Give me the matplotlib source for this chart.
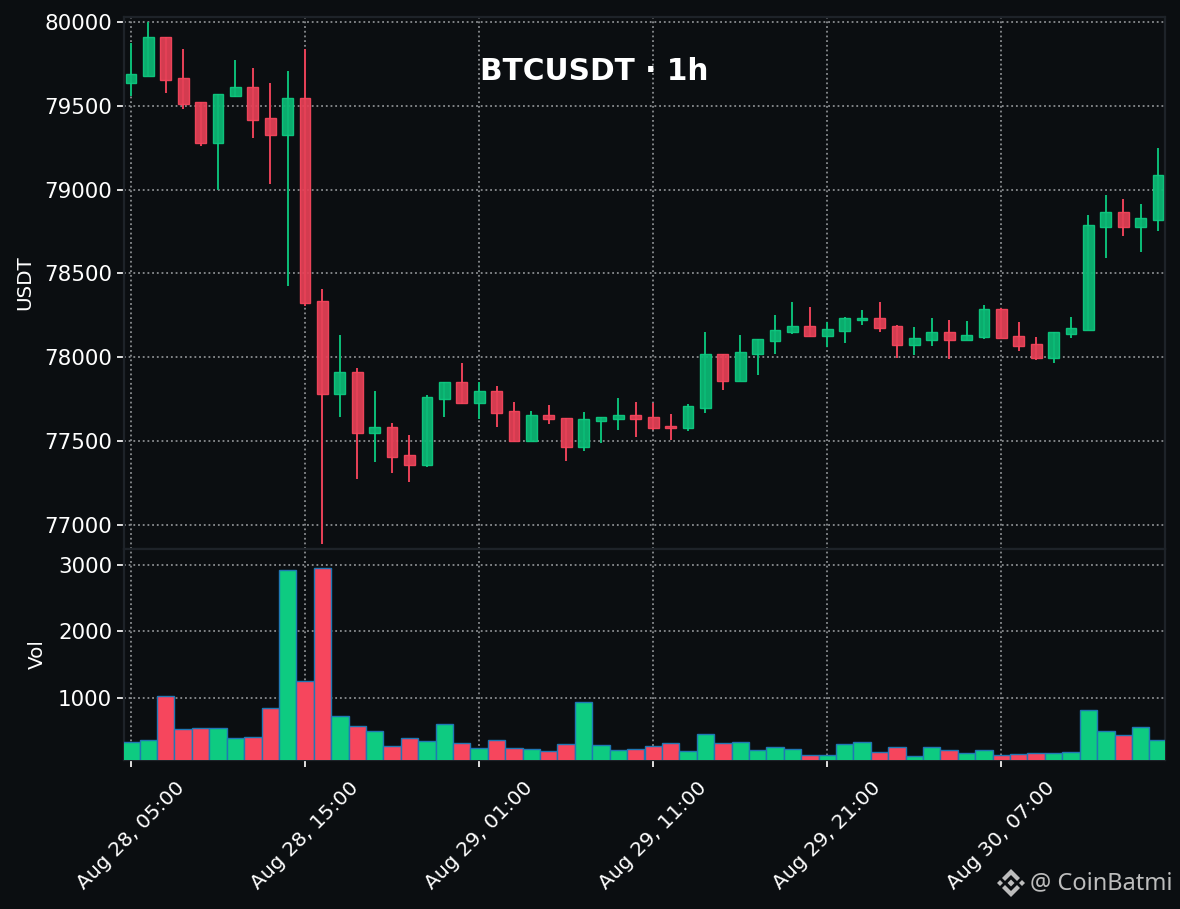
import matplotlib
matplotlib.use("Agg")
import matplotlib.pyplot as plt
from matplotlib.patches import Polygon

# 1h candles, Aug 28 05:00 onwards
labels = ["Aug 28, 05:00", "Aug 28, 15:00", "Aug 29, 01:00", "Aug 29, 11:00", "Aug 29, 21:00", "Aug 30, 07:00"]
label_idx = [0, 10, 20, 30, 40, 50]

opens = [79636, 79678, 79910, 79666, 79523, 79278, 79558, 79612, 79427, 79326,
         79546, 78335, 77780, 77912, 77547, 77583, 77416, 77357, 77750, 77852,
         77727, 77798, 77679, 77500, 77655, 77637, 77464, 77619, 77631, 77655,
         77643, 77589, 77577, 77697, 78019, 77858, 78019, 78097, 78150, 78186,
         78126, 78156, 78222, 78234, 78186, 78073, 78102, 78150, 78102, 78120,
         78287, 78126, 78079, 77995, 78138, 78162, 78777, 78866, 78777, 78819]
highs = [79875, 80000, 79910, 79839, 79523, 79570, 79773, 79725, 79636, 79707,
         79839, 78407, 78132, 77935, 77798, 77607, 77536, 77774, 77852, 77965,
         77852, 77828, 77732, 77679, 77715, 77637, 77673, 77643, 77757, 77732,
         77727, 77661, 77721, 78150, 78019, 78132, 78108, 78252, 78329, 78299,
         78210, 78240, 78281, 78329, 78192, 78180, 78234, 78222, 78216, 78311,
         78293, 78210, 78120, 78150, 78240, 78848, 78968, 78944, 78914, 79248]
lows = [79558, 79678, 79576, 79481, 79260, 78998, 79552, 79308, 79033, 78425,
        78305, 76885, 77643, 77273, 77374, 77309, 77255, 77345, 77643, 77721,
        77631, 77583, 77500, 77500, 77601, 77380, 77440, 77488, 77565, 77524,
        77565, 77506, 77559, 77667, 77804, 77858, 77894, 78019, 78138, 78120,
        78061, 78085, 78192, 78150, 77995, 78013, 78067, 77989, 78102, 78108,
        78115, 78037, 77983, 77965, 78115, 78162, 78592, 78723, 78628, 78753]
closes = [79690, 79910, 79654, 79511, 79278, 79570, 79612, 79415, 79326, 79546,
          78323, 77780, 77912, 77547, 77583, 77404, 77357, 77762, 77852, 77727,
          77798, 77667, 77500, 77655, 77631, 77464, 77631, 77643, 77655, 77631,
          77577, 77577, 77709, 78019, 77858, 78031, 78108, 78162, 78186, 78126,
          78168, 78234, 78234, 78174, 78073, 78115, 78150, 78102, 78132, 78287,
          78115, 78067, 77995, 78150, 78174, 78789, 78866, 78777, 78830, 79087]
volumes = [333, 363, 1025, 529, 544, 544, 394, 409, 845, 2920,
           1251, 2950, 724, 574, 499, 273, 394, 348, 604, 318,
           243, 363, 243, 228, 198, 303, 935, 288, 213, 228,
           273, 318, 198, 454, 318, 333, 213, 258, 228, 138,
           138, 303, 333, 183, 258, 123, 258, 213, 168, 213,
           138, 153, 168, 168, 183, 815, 499, 439, 559, 363]

W, H = 1180, 909
bg = "#0b0e11"
up_c = "#0ecb81"
down_c = "#f6465d"
candle_up = "#0bb975"
candle_down = "#e44056"
spine_c = "#1e2329"
grid_c = "#8a8d90"


def fig_rect(x0, y_top, x1, y_bot):
    return [x0 / W, 1 - y_bot / H, (x1 - x0) / W, (y_bot - y_top) / H]


fig = plt.figure(figsize=(W / 100, H / 100), dpi=100, facecolor=bg)
ax = fig.add_axes(fig_rect(124, 16.5, 1165, 549))
vol_ax = fig.add_axes(fig_rect(124, 549, 1165, 760), sharex=ax)

xs = list(range(len(opens)))
is_up = [c >= o for o, c in zip(opens, closes)]

for a in (ax, vol_ax):
    a.set_facecolor(bg)
    a.set_axisbelow(True)
    a.grid(True, color=grid_c, linestyle=(0, (1, 1.6)), linewidth=1.3)
    for s in a.spines.values():
        s.set_color(spine_c)
        s.set_linewidth(1.6)
    a.tick_params(colors="white", length=5, width=1.4, color="#e0e0e0")
    a.tick_params(axis="y", labelsize=15.4)
    a.tick_params(axis="x", labelsize=14.6, pad=8)

# candles
wick_colors = [candle_up if u else candle_down for u in is_up]
ax.vlines(xs, lows, highs, colors=wick_colors, linewidth=1.45, zorder=2)
for i in xs:
    bottom = min(opens[i], closes[i])
    height = abs(closes[i] - opens[i])
    ax.bar(i, height, bottom=bottom, width=0.62, color=wick_colors[i], alpha=0.93,
           edgecolor=up_c if is_up[i] else down_c, linewidth=1.0, zorder=3)

ax.set_xlim(-0.4, 59.4)
ax.set_ylim(76855, 80033)
ax.set_yticks([77000, 77500, 78000, 78500, 79000, 79500, 80000])
ax.set_ylabel("USDT", color="white", fontsize=14.3)
ax.yaxis.set_label_coords((34 - 124) / 1041, 0.5)
ax.tick_params(axis="x", which="both", bottom=False, labelbottom=False)

# volume
vol_ax.bar(xs, volumes, width=1.0, color=[up_c if u else down_c for u in is_up],
           edgecolor="#1f77b4", linewidth=1.0, zorder=3)
vol_ax.set_ylim(67, 3240)
vol_ax.set_yticks([1000, 2000, 3000])
vol_ax.set_ylabel("Vol", color="white", fontsize=14.3)
vol_ax.yaxis.set_label_coords((47 - 124) / 1041, 0.5)
vol_ax.set_xticks(label_idx)
vol_ax.set_xticklabels(labels, rotation=45, ha="center", rotation_mode="default")

fig.text(594 / W, 1 - 71 / H, "BTCUSDT · 1h", color="white", fontsize=21.3,
         fontweight="bold", ha="center", va="center")

# watermark
fig.text(1030 / W, 1 - 883 / H, "@ CoinBatmi", color="#bdbdbd", fontsize=17,
         ha="left", va="center", family="Noto Sans")

icon_x, icon_y = 1011, 883
icon_parts = [
    [(0, -3.5), (3.5, 0), (0, 3.5), (-3.5, 0)],
    [(-14, 0), (-11, -3), (-8, 0), (-11, 3)],
    [(14, 0), (11, -3), (8, 0), (11, 3)],
    [(0, -14), (9, -5), (6, -2), (0, -8), (-6, -2), (-9, -5)],
    [(0, 14), (9, 5), (6, 2), (0, 8), (-6, 2), (-9, 5)],
]
for part in icon_parts:
    pts = [((icon_x + px) / W, 1 - (icon_y + py) / H) for px, py in part]
    fig.add_artist(Polygon(pts, closed=True, facecolor="#bdbdbd", edgecolor="none",
                           transform=fig.transFigure))

fig.savefig("out.png", dpi=100, facecolor=bg)
